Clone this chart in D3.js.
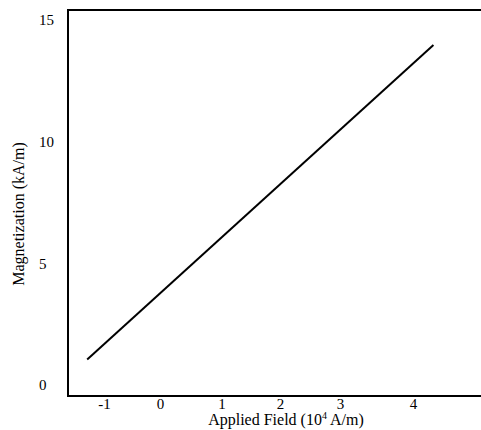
<!DOCTYPE html>
<html>
<head>
<meta charset="utf-8">
<script src="https://cdn.jsdelivr.net/npm/d3@7"></script>
<style>
  body { margin: 0; background: #fff; }
  text { font-family: "Liberation Serif", "Times New Roman", serif; fill: #000; }
</style>
</head>
<body>
<script>
var width = 481;
var height = 430;

// data
var xTicks = [-1, 0, 1, 2, 3, 4];
var yTicks = [0, 5, 10, 15];
var fieldValues = [-1.3, 4.28];   // 10^4 A/m
var magValues = [1.05, 13.97];    // kA/m

var svg = d3.select("body").append("svg")
            .attr("width", width)
            .attr("height", height);

// tick labels in the figure are not evenly spaced, so piecewise scale
var x = d3.scaleLinear()
          .domain(xTicks)
          .range([104, 160, 221.5, 280, 340, 413]);

var y = d3.scaleLinear()
          .domain([0, 15])
          .range([385, 20]);

// frame (left, top, bottom; right side runs off the page)
svg.append("path")
   .attr("d", "M490,10H68V396H490")
   .attr("fill", "none")
   .attr("stroke", "#000")
   .attr("stroke-width", 2);

var xAxis = d3.axisBottom(x)
    .tickValues(xTicks)
    .tickSize(0)
    .tickPadding(0);
svg.append("g")
   .attr("transform", "translate(0,396)")
   .call(xAxis)
   .call(function(g) { g.select(".domain").remove(); })
   .selectAll("text")
     .attr("dy", null)
     .attr("y", 13)
     .attr("font-size", 15)
     .text(function(d) { return d; });

var yAxis = d3.axisLeft(y)
    .tickValues(yTicks)
    .tickSize(0);
svg.append("g")
   .attr("transform", "translate(68,0)")
   .call(yAxis)
   .call(function(g) { g.select(".domain").remove(); })
   .selectAll("text")
     .attr("x", -29)
     .attr("text-anchor", "start")
     .attr("font-size", 15);

var line = d3.line()
    .x(function(d) { return x(d[0]); })
    .y(function(d) { return y(d[1]); });

svg.append("path")
   .datum(d3.zip(fieldValues, magValues))
   .attr("d", line)
   .attr("fill", "none")
   .attr("stroke", "#000")
   .attr("stroke-width", 2);

var xt = svg.append("text")
   .attr("x", 286)
   .attr("y", 425)
   .attr("text-anchor", "middle")
   .attr("font-size", 16);
xt.append("tspan").text("Applied Field (10");
xt.append("tspan").attr("dy", -6).attr("font-size", 10).text("4");
xt.append("tspan").attr("dy", 6).text(" A/m)");

svg.append("text")
   .attr("transform", "translate(24,214) rotate(-90)")
   .attr("text-anchor", "middle")
   .attr("font-size", 16)
   .text("Magnetization (kA/m)");
</script>
</body>
</html>
